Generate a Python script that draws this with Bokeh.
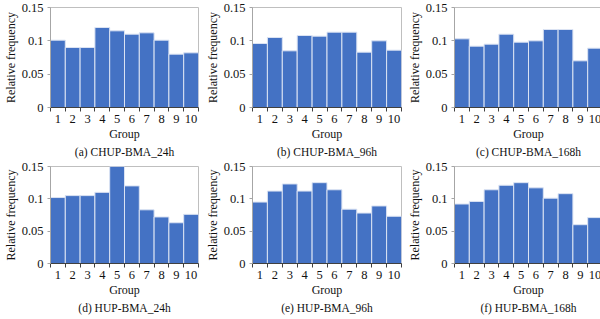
from bokeh.plotting import figure
from bokeh.layouts import column, row
from bokeh.models import FixedTicker, NumeralTickFormatter, Title, Range1d, ColumnDataSource
from bokeh.embed import file_html
from bokeh.resources import INLINE

groups = [1, 2, 3, 4, 5, 6, 7, 8, 9, 10]
group_labels = ["1", "2", "3", "4", "5", "6", "7", "8", "9", "10"]
y_ticks = [0, 0.05, 0.1, 0.15]

captions = ["(a) CHUP-BMA_24h", "(b) CHUP-BMA_96h", "(c) CHUP-BMA_168h",
            "(d) HUP-BMA_24h", "(e) HUP-BMA_96h", "(f) HUP-BMA_168h"]

chup_24h = [0.101, 0.090, 0.090, 0.120, 0.115, 0.110, 0.112, 0.101, 0.080, 0.082]
chup_96h = [0.096, 0.105, 0.085, 0.108, 0.107, 0.113, 0.113, 0.083, 0.100, 0.086]
chup_168h = [0.103, 0.092, 0.095, 0.110, 0.098, 0.100, 0.117, 0.117, 0.070, 0.089]
hup_24h = [0.102, 0.105, 0.105, 0.110, 0.150, 0.120, 0.083, 0.072, 0.063, 0.076]
hup_96h = [0.095, 0.112, 0.123, 0.112, 0.125, 0.114, 0.084, 0.078, 0.089, 0.073]
hup_168h = [0.092, 0.096, 0.114, 0.121, 0.125, 0.117, 0.101, 0.108, 0.060, 0.071]

series = [chup_24h, chup_96h, chup_168h, hup_24h, hup_96h, hup_168h]

FONT = "Liberation Serif"
BAR = "#4472C4"

# per column: (fig width, left border, frame width)
cols = [(200, 48, 148), (200, 48, 149), (199, 47, 148)]
# per row: (fig height, top border, frame height)
rows_spec = [(160, 7, 100), (159, 6, 97)]


def make_panel(vals, caption, col, rw):
    fw, bl, frw = cols[col]
    fh, bt, frh = rows_spec[rw]
    p = figure(width=fw, height=fh, frame_width=frw, frame_height=frh,
               output_backend="svg", toolbar_location=None,
               x_range=Range1d(0.5, 10.5), y_range=Range1d(0, 0.15),
               min_border_left=bl, min_border_top=bt,
               min_border_right=fw - bl - frw, min_border_bottom=fh - bt - frh)
    src = ColumnDataSource(dict(x=groups, top=vals))
    p.vbar(x="x", top="top", width=1.0, bottom=0, source=src,
           fill_color=BAR, line_color="#dbe3f3", line_width=1)
    p.xgrid.visible = False
    p.ygrid.visible = False
    p.outline_line_color = "#bfbfbf"
    p.outline_line_width = 1
    p.background_fill_color = "white"
    p.border_fill_color = "white"

    xa = p.xaxis[0]
    xa.ticker = FixedTicker(ticks=groups, minor_ticks=[g - 0.5 for g in groups] + [10.5])
    xa.major_label_overrides = {g: l for g, l in zip(groups, group_labels)}
    xa.major_tick_out = 0
    xa.major_tick_in = 0
    xa.minor_tick_out = 4
    xa.minor_tick_in = 0
    xa.minor_tick_line_color = "#404040"
    xa.axis_line_color = "#404040"
    xa.major_label_standoff = 3
    xa.major_label_text_font = FONT
    xa.major_label_text_font_size = "12.5px"
    xa.major_label_text_color = "#111111"
    xa.axis_label = "Group"
    xa.axis_label_text_font = FONT
    xa.axis_label_text_font_size = "12px"
    xa.axis_label_text_font_style = "normal"
    xa.axis_label_text_color = "#111111"
    xa.axis_label_standoff = 1

    ya = p.yaxis[0]
    ya.ticker = FixedTicker(ticks=y_ticks, minor_ticks=[])
    ya.formatter = NumeralTickFormatter(format="0.[00]")
    ya.major_tick_out = 3
    ya.major_tick_in = 0
    ya.minor_tick_out = 0
    ya.major_tick_line_color = "#a6a6a6"
    ya.axis_line_color = "#a6a6a6"
    ya.major_label_standoff = 4
    ya.major_label_text_font = FONT
    ya.major_label_text_font_size = "12.5px"
    ya.major_label_text_color = "#111111"
    ya.axis_label = "Relative frequency"
    ya.axis_label_text_font = FONT
    ya.axis_label_text_font_size = "12px"
    ya.axis_label_text_font_style = "normal"
    ya.axis_label_text_color = "#111111"
    ya.axis_label_standoff = 1

    t = Title(text=caption, align="center", text_font=FONT, text_font_size="11.5px",
              text_font_style="normal", text_color="#111111", standoff=1, offset=0)
    p.add_layout(t, "below")
    return p


panels = []
for i, (vals, cap) in enumerate(zip(series, captions)):
    panels.append(make_panel(vals, cap, i % 3, i // 3))

layout = column(row(*panels[:3]), row(*panels[3:]))
layout.spacing = 0

open("out.html", "w").write(file_html(layout, INLINE))
